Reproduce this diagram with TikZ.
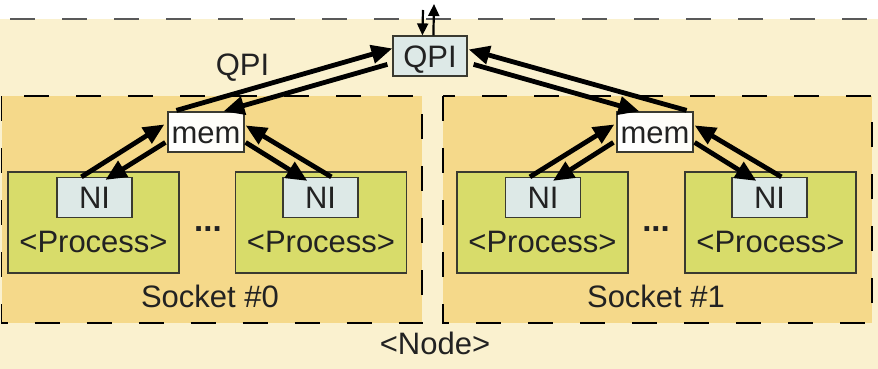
\documentclass[tikz,border=0pt]{standalone}
\usepackage{fontspec}
\setmainfont{Liberation Sans}
\usetikzlibrary{arrows.meta,calc}

\definecolor{nodebg}{HTML}{FAF1CF}
\definecolor{socketbg}{HTML}{F5D98A}
\definecolor{procbg}{HTML}{D8DC6A}
\definecolor{nibg}{HTML}{DDE9E7}
\definecolor{ink}{HTML}{222222}
\definecolor{edge}{HTML}{3A3A30}

\tikzset{
  lbl/.style={font=\fontsize{31}{37}\selectfont, text=ink, inner sep=0pt},
  boxed/.style={lbl, draw=edge, line width=1.2pt, text height=22.2pt, text depth=0pt,
    minimum height=40pt, minimum width=75pt},
  nibox/.style={boxed, fill=nibg},
  membox/.style={boxed, left color=white, right color=white!80!nodebg, shading angle=135},
  procbox/.style={draw=edge, line width=1.2pt, fill=procbg, inner sep=0pt,
    minimum width=171pt, minimum height=101pt},
  socketbox/.style={draw=black, line width=1.2pt, dash pattern=on 25pt off 27pt, fill=socketbg},
  link/.style={line width=4.8pt, -{Triangle[length=21pt,width=18pt]}},
  extlink/.style={line width=2.2pt, -{Triangle[length=12pt,width=11pt]}}
}

\begin{document}
\begin{tikzpicture}[x=1pt,y=-1pt]
\useasboundingbox (0,0) rectangle (878,369);

% node area
\fill[nodebg] (0,19) rectangle (878,369);
\draw[gray!70!black, line width=1.2pt, dash pattern=on 25pt off 27pt, dash phase=-10pt] (0,19) -- (878,19);

% sockets
\draw[socketbox] (1.5,96) rectangle (422,323);
\draw[socketbox] (443,96) rectangle (872,323);

% processes
\node[procbox] (p1) at (93.5,222.5) {};
\node[procbox] (p2) at (321,222.5) {};
\node[procbox] (p3) at (542.5,222.5) {};
\node[procbox] (p4) at (770.5,222.5) {};

\node[nibox] (ni1) at (94.5,197.5) {NI};
\node[nibox] (ni2) at (320.5,197.5) {NI};
\node[nibox] (ni3) at (543,197.5) {NI};
\node[nibox] (ni4) at (769.5,197.5) {NI};

\node[lbl, anchor=base] (t1) at (93.5,252) {<Process>};
\node[lbl, anchor=base] (t2) at (321,252) {<Process>};
\node[lbl, anchor=base] (t3) at (542.5,252) {<Process>};
\node[lbl, anchor=base] (t4) at (770.5,252) {<Process>};

\node[lbl, anchor=base, font=\fontsize{33}{37}\selectfont\bfseries] (dots0) at (208,231) {...};
\node[lbl, anchor=base, font=\fontsize{33}{37}\selectfont\bfseries] (dots1) at (656,231) {...};

\node[lbl, anchor=base] (s0) at (210,307) {Socket \#0};
\node[lbl, anchor=base] (s1) at (656,307) {Socket \#1};
\node[lbl, anchor=base] (nd) at (435,354) {<Node>};

% memory and interconnect
\node[membox, minimum width=76pt] (memL) at (206,132) {mem};
\node[membox, minimum width=76pt] (memR) at (655,132) {mem};
\node[nibox, minimum width=74pt] (qpi) at (430,56) {QPI};
\node[lbl, anchor=base] (qpilbl) at (242.5,76) {QPI};

% external link of the QPI
\coordinate (extin) at (423,10);
\coordinate (extout) at (434,4);
\draw[extlink] (extin) -- ($(qpi.north west)+(30,0)$);
\draw[extlink] ($(qpi.north west)+(41,0)$) -- (extout);

% QPI <-> memory
\draw[link] ($(memL.north west)+(9,-1)$) -- ($(qpi.north west)+(0,13)$);
\draw[link] ($(qpi.north west)+(-5,29)$) -- ($(memL.north west)+(56,0)$);
\draw[link] ($(memR.north east)+(-7,-1)$) -- ($(qpi.north east)+(1,14)$);
\draw[link] ($(qpi.north east)+(6,29)$) -- ($(memR.north west)+(23,0)$);

% memory <-> NI, socket 0
\draw[link] ($(ni1.north west)+(25,0)$) -- ($(memL.north west)+(-3,13)$);
\draw[link] ($(memL.north west)+(-2,31)$) -- ($(ni1.north west)+(49,3)$);
\draw[link] ($(ni2.north west)+(49,0)$) -- ($(memL.north east)+(1,14)$);
\draw[link] ($(memL.north east)+(1,31)$) -- ($(ni2.north west)+(25,4)$);

% memory <-> NI, socket 1
\draw[link] ($(ni3.north west)+(25,0)$) -- ($(memR.north west)+(-2,13)$);
\draw[link] ($(memR.north west)+(-3,31)$) -- ($(ni3.north west)+(48,4)$);
\draw[link] ($(ni4.north west)+(50,0)$) -- ($(memR.north east)+(1,14)$);
\draw[link] ($(memR.north east)+(1,31)$) -- ($(ni4.north west)+(25,4)$);
\end{tikzpicture}
\end{document}
